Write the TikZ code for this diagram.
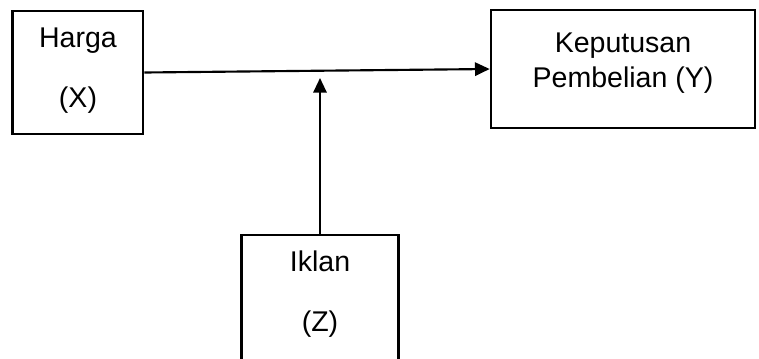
\documentclass[tikz,border=0pt]{standalone}
\usepackage{fontspec}
\setmainfont{Liberation Sans}
\usetikzlibrary{arrows.meta}
\begin{document}
\begin{tikzpicture}[x=0.75pt,y=-0.75pt,
  boxstyle/.style={draw=black,line width=2pt,inner sep=0pt,fill=white},
  lbl/.style={inner sep=0pt,align=center,font=\fontsize{21.4}{26.5}\selectfont},
  conn/.style={line width=1.6pt,-{Triangle[length=11pt,width=10pt]}}]
\useasboundingbox (0,0) rectangle (759,358);
\clip (0,0) rectangle (759,358);
\node[boxstyle,minimum width=130.5*0.75pt,minimum height=123*0.75pt] (harga) at (77.8,72.5) {};
\node[boxstyle,minimum width=264*0.75pt,minimum height=118*0.75pt] (kep) at (623,69) {};
\node[boxstyle,minimum width=156.5*0.75pt,minimum height=150*0.75pt] (iklan) at (320,310) {};
\node[lbl] (thx) at (78,71) {Harga\\[18.5pt](X)};
\node[lbl] (tky) at (623,63) {Keputusan\\Pembelian (Y)};
\node[lbl] (tiz) at (320,294) {Iklan\\[18.5pt](Z)};
\coordinate (tip) at (320,78);
\draw[conn] (harga.east) -- (kep.west);
\draw[conn] (iklan.north) -- (tip);
\end{tikzpicture}
\end{document}
